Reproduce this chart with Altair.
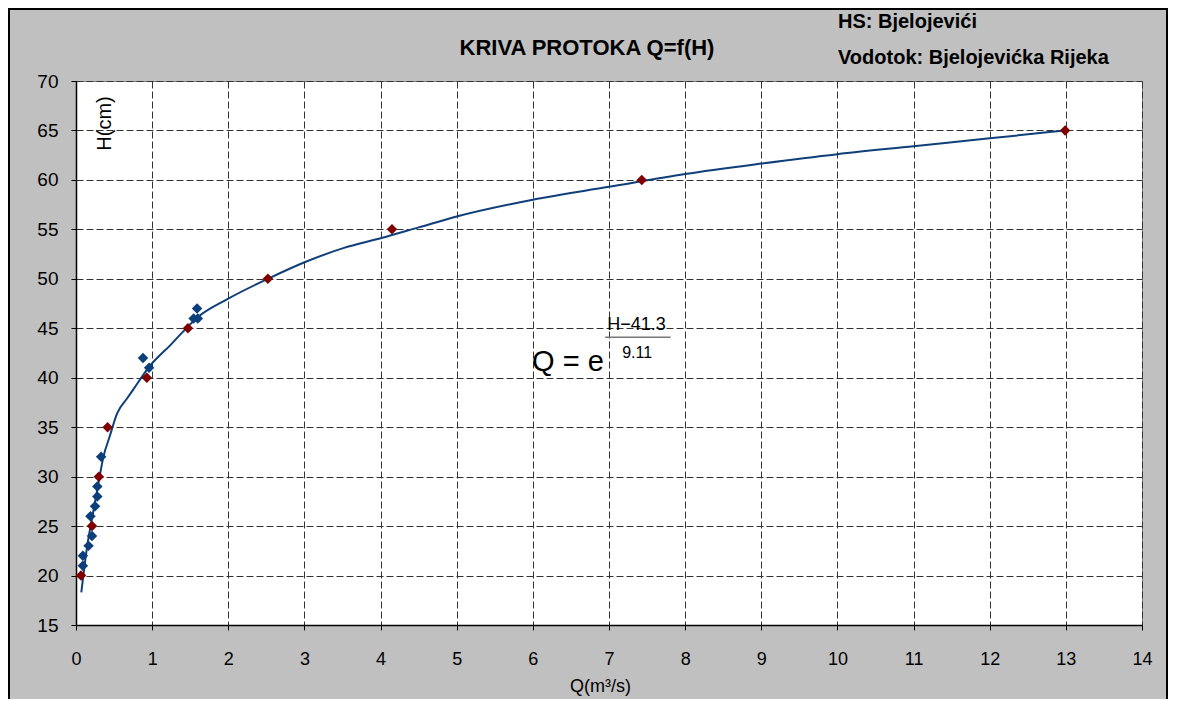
import altair as alt
import pandas as pd

# Measured points (blue diamonds)
meas_Q = [0.09, 0.09, 0.165, 0.21, 0.19, 0.25, 0.28, 0.28, 0.33, 0.96, 0.88, 1.545, 1.60, 1.59]
meas_H = [21, 22, 23, 24, 26, 27, 28, 29, 32, 41, 42, 46, 46, 47]

# Rating-curve points (dark red diamonds)
rc_Q = [0.066, 0.21, 0.30, 0.415, 0.93, 1.47, 2.52, 4.15, 7.43, 12.99]
rc_H = [20, 25, 30, 35, 40, 45, 50, 55, 60, 65]

# Fitted curve
fit_Q = [0.07, 0.14, 0.23, 0.31, 0.36, 0.44, 0.54, 0.67, 0.76, 0.95, 1.24, 1.61, 2.0, 2.52,
         3.01, 3.51, 4.0, 4.5, 5.0, 6.0, 7.0, 8.0, 9.0, 10.0, 11.0, 12.0, 12.99]
fit_H = [18.3, 22.6, 26.6, 30.0, 32.0, 34.0, 36.4, 37.9, 38.9, 41.0, 43.3, 46.2, 48.0, 50.0,
         51.7, 53.1, 54.1, 55.2, 56.3, 58.0, 59.3, 60.6, 61.65, 62.6, 63.4, 64.2, 65.0]

x_ticks = list(range(0, 15))
y_ticks = list(range(15, 71, 5))

FONT = "Liberation Sans"
W, H = 1066, 544

meas = pd.DataFrame({"Q": meas_Q, "H": meas_H})
rc = pd.DataFrame({"Q": rc_Q, "H": rc_H})
fit = pd.DataFrame({"Q": fit_Q, "H": fit_H})

xscale = alt.Scale(domain=[0, 14], nice=False, zero=False)
yscale = alt.Scale(domain=[15, 70], nice=False, zero=False)

xax = alt.Axis(values=x_ticks, format="d", grid=True, gridDash=[7, 3], gridColor="#333333", gridWidth=1,
               domainColor="black", domainWidth=1.5, tickColor="black", tickSize=5,
               labelFont=FONT, labelFontSize=18, labelColor="black", labelPadding=20, labelFlush=False,
               title="Q(m³/s)", titleFont=FONT, titleFontSize=18, titleFontWeight="normal",
               titleColor="black", titleX=524, titleY=61, titleBaseline="middle")
yax = alt.Axis(values=y_ticks, format="d", grid=True, gridDash=[7, 3], gridColor="#333333", gridWidth=1,
               domainColor="black", domainWidth=1.5, tickColor="black", tickSize=5,
               labelFont=FONT, labelFontSize=19, labelColor="black", labelPadding=13, labelFlush=False,
               title="H(cm)", titleFont=FONT, titleFontSize=20, titleFontWeight="normal",
               titleColor="black", titleAngle=270, titleX=28, titleY=42,
               titleAlign="center", titleBaseline="middle")

line = alt.Chart(fit).mark_line(color="#0F3F7A", strokeWidth=2, interpolate="monotone").encode(
    x=alt.X("Q:Q", scale=xscale, axis=xax),
    y=alt.Y("H:Q", scale=yscale, axis=yax),
)
pts_blue = alt.Chart(meas).mark_point(shape="diamond", filled=True, size=110, color="#0B3E7B", opacity=1).encode(
    x="Q:Q", y="H:Q")
pts_red = alt.Chart(rc).mark_point(shape="diamond", filled=True, size=110, color="#800000", opacity=1).encode(
    x="Q:Q", y="H:Q")

# Equation annotation (data coordinates)
eq_main = pd.DataFrame({"Q": [5.99], "H": [41.6], "t": ["Q = e"]})
eq_num = pd.DataFrame({"Q": [7.36], "H": [45.3], "t": ["H\u221241.3"]})
eq_den = pd.DataFrame({"Q": [7.37], "H": [42.45], "t": ["9.11"]})
eq_bar = pd.DataFrame({"Q": [6.95], "Q2": [7.81], "H": [44.08]})

t_main = alt.Chart(eq_main).mark_text(font=FONT, fontSize=29, align="left", baseline="middle", color="black").encode(
    x="Q:Q", y="H:Q", text="t:N")
t_num = alt.Chart(eq_num).mark_text(font=FONT, fontSize=18, align="center", baseline="middle", color="black").encode(
    x="Q:Q", y="H:Q", text="t:N")
t_den = alt.Chart(eq_den).mark_text(font=FONT, fontSize=16, align="center", baseline="middle", color="black").encode(
    x="Q:Q", y="H:Q", text="t:N")
bar = alt.Chart(eq_bar).mark_rule(color="#777777", strokeWidth=1.5).encode(
    x="Q:Q", x2="Q2:Q", y="H:Q")

# Header texts
hdr = pd.DataFrame({"t": ["KRIVA PROTOKA Q=f(H)", "HS: Bjelojevići", "Vodotok: Bjelojevićka Rijeka"]})
title = alt.Chart(hdr).transform_filter(alt.datum.t == "KRIVA PROTOKA Q=f(H)").mark_text(
    font=FONT, fontSize=22, fontWeight="bold", align="center", baseline="middle", color="black"
).encode(x=alt.value(511), y=alt.value(-33), text="t:N")
hs = alt.Chart(hdr).transform_filter(alt.datum.t == "HS: Bjelojevići").mark_text(
    font=FONT, fontSize=20, fontWeight="bold", align="left", baseline="middle", color="black"
).encode(x=alt.value(762), y=alt.value(-59), text="t:N")
vod = alt.Chart(hdr).transform_filter(alt.datum.t == "Vodotok: Bjelojevićka Rijeka").mark_text(
    font=FONT, fontSize=20, fontWeight="bold", align="left", baseline="middle", color="black"
).encode(x=alt.value(762), y=alt.value(-23), text="t:N")

frame = alt.Chart(pd.DataFrame({"a": [0]})).mark_rect(fill=None, stroke="black", strokeWidth=2, clip=False).encode(
    x=alt.value(-67), x2=alt.value(W + 25), y=alt.value(-72), y2=alt.value(H + 85))

chart = alt.layer(line, pts_blue, pts_red, bar, t_main, t_num, t_den, title, hs, vod, frame).properties(
    width=W, height=H,
    autosize=alt.AutoSizeParams(type="none"),
    padding={"left": 68, "top": 73, "right": 26, "bottom": 74},
    background="#C0C0C0",
).configure_view(fill="white", stroke="#808080", strokeWidth=1)

chart.save("out.html", embed_options={"renderer": "svg", "actions": False})
